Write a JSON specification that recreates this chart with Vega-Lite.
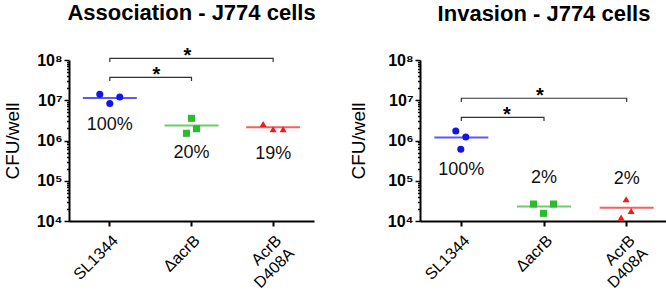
{
  "$schema": "https://vega.github.io/schema/vega-lite/v6.json",
  "padding": {"left": 3, "top": 2, "right": 0, "bottom": 0},
  "spacing": 33,
  "config": {
    "font": "Liberation Sans",
    "view": {"stroke": null},
    "axis": {"grid": false, "domainColor": "#000", "domainWidth": 2, "tickColor": "#000", "labelColor": "#000", "titleColor": "#000", "labelFont": "Liberation Sans", "titleFont": "Liberation Sans"},
    "title": {"font": "Liberation Sans", "fontSize": 22, "fontWeight": "bold", "color": "#000", "frame": "group", "anchor": "middle", "baseline": "alphabetic"}
  },
  "datasets": {
    "pts": [
      {"panel": "A", "strain": "SL1344", "cfu": 14000000, "slot": -2, "pct": "100%"},
      {"panel": "A", "strain": "SL1344", "cfu": 8300000, "slot": 0, "pct": "100%"},
      {"panel": "A", "strain": "SL1344", "cfu": 12000000, "slot": 2, "pct": "100%"},
      {"panel": "A", "strain": "ΔacrB", "cfu": 3560000, "slot": 0, "pct": "20%"},
      {"panel": "A", "strain": "ΔacrB", "cfu": 1960000, "slot": 1, "pct": "20%"},
      {"panel": "A", "strain": "ΔacrB", "cfu": 1510000, "slot": -1, "pct": "20%"},
      {"panel": "A", "strain": "AcrB D408A", "cfu": 2570000, "slot": -2, "pct": "19%"},
      {"panel": "A", "strain": "AcrB D408A", "cfu": 1900000, "slot": 0, "pct": "19%"},
      {"panel": "A", "strain": "AcrB D408A", "cfu": 1900000, "slot": 2, "pct": "19%"},
      {"panel": "I", "strain": "SL1344", "cfu": 1720000, "slot": -1, "pct": "100%"},
      {"panel": "I", "strain": "SL1344", "cfu": 1220000, "slot": 1, "pct": "100%"},
      {"panel": "I", "strain": "SL1344", "cfu": 604000, "slot": 0, "pct": "100%"},
      {"panel": "I", "strain": "ΔacrB", "cfu": 26400, "slot": -2, "pct": "2%"},
      {"panel": "I", "strain": "ΔacrB", "cfu": 26400, "slot": 2, "pct": "2%"},
      {"panel": "I", "strain": "ΔacrB", "cfu": 15500, "slot": 0, "pct": "2%"},
      {"panel": "I", "strain": "AcrB D408A", "cfu": 34600, "slot": 0, "pct": "2%"},
      {"panel": "I", "strain": "AcrB D408A", "cfu": 17700, "slot": 1, "pct": "2%"},
      {"panel": "I", "strain": "AcrB D408A", "cfu": 12100, "slot": -1, "pct": "2%"}
    ],
    "br": [
      {"panel": "A", "id": 1, "seq": 0, "strain": "SL1344", "cfu": 89000000},
      {"panel": "A", "id": 1, "seq": 1, "strain": "SL1344", "cfu": 110000000},
      {"panel": "A", "id": 1, "seq": 2, "strain": "AcrB D408A", "cfu": 110000000},
      {"panel": "A", "id": 1, "seq": 3, "strain": "AcrB D408A", "cfu": 89000000},
      {"panel": "A", "id": 2, "seq": 0, "strain": "SL1344", "cfu": 30000000},
      {"panel": "A", "id": 2, "seq": 1, "strain": "SL1344", "cfu": 37200000},
      {"panel": "A", "id": 2, "seq": 2, "strain": "ΔacrB", "cfu": 37200000},
      {"panel": "A", "id": 2, "seq": 3, "strain": "ΔacrB", "cfu": 30000000},
      {"panel": "I", "id": 1, "seq": 0, "strain": "SL1344", "cfu": 9100000},
      {"panel": "I", "id": 1, "seq": 1, "strain": "SL1344", "cfu": 11200000},
      {"panel": "I", "id": 1, "seq": 2, "strain": "AcrB D408A", "cfu": 11200000},
      {"panel": "I", "id": 1, "seq": 3, "strain": "AcrB D408A", "cfu": 9100000},
      {"panel": "I", "id": 2, "seq": 0, "strain": "SL1344", "cfu": 3050000},
      {"panel": "I", "id": 2, "seq": 1, "strain": "SL1344", "cfu": 3770000},
      {"panel": "I", "id": 2, "seq": 2, "strain": "ΔacrB", "cfu": 3770000},
      {"panel": "I", "id": 2, "seq": 3, "strain": "ΔacrB", "cfu": 3050000}
    ],
    "stars": [
      {"panel": "A", "level": "top", "strain": "ΔacrB", "cfu": 110000000, "t": "*"},
      {"panel": "A", "level": "low", "strain": "ΔacrB", "cfu": 37200000, "t": "*"},
      {"panel": "I", "level": "top", "strain": "ΔacrB", "cfu": 11200000, "t": "*"},
      {"panel": "I", "level": "low", "strain": "ΔacrB", "cfu": 3770000, "t": "*"}
    ]
  },
  "hconcat": [
    {
      "width": 245,
      "height": 161,
      "title": {"text": "Association - J774 cells", "offset": 21},
      "encoding": {
        "x": {"field": "strain", "type": "nominal", "title": null,
          "scale": {"domain": ["SL1344", "ΔacrB", "AcrB D408A"], "paddingInner": 0, "paddingOuter": 0},
          "axis": {"labelAngle": -45, "labelFontSize": 16, "labelPadding": 6, "tickSize": 5, "tickWidth": 2, "labelLineHeight": 18,
            "labelExpr": "datum.label == 'AcrB D408A' ? ['AcrB', 'D408A'] : datum.label"}},
        "y": {"field": "cfu", "type": "quantitative", "title": "CFU/well",
          "scale": {"type": "log", "domain": [10000, 100000000], "nice": false},
          "axis": {"values": [10000, 20000, 30000, 40000, 50000, 60000, 70000, 80000, 90000, 100000, 200000, 300000, 400000, 500000, 600000, 700000, 800000, 900000, 1000000, 2000000, 3000000, 4000000, 5000000, 6000000, 7000000, 8000000, 9000000, 10000000, 20000000, 30000000, 40000000, 50000000, 60000000, 70000000, 80000000, 90000000, 100000000],
            "labelExpr": "abs(log(datum.value)/LN10 - round(log(datum.value)/LN10)) < 0.01 ? '10' + substring('⁰¹²³⁴⁵⁶⁷⁸⁹', round(log(datum.value)/LN10), round(log(datum.value)/LN10) + 1) : ''",
            "labelOverlap": false, "labelFontWeight": "bold", "labelFontSize": 16, "labelPadding": 2,
            "tickSize": {"condition": {"test": "abs(log(datum.value)/LN10 - round(log(datum.value)/LN10)) < 0.01", "value": 5}, "value": 2.5},
            "tickWidth": 1.5, "titleFontSize": 19, "titleFontWeight": "normal", "titlePadding": 14}}
      },
      "layer": [
        {
          "data": {"name": "br"},
          "transform": [{"filter": "datum.panel == 'A'"}],
          "mark": {"type": "line", "color": "#333", "strokeWidth": 1.2},
          "encoding": {"detail": {"field": "id"}, "order": {"field": "seq"}}
        },
        {
          "data": {"name": "stars"},
          "transform": [{"filter": "datum.panel == 'A' && datum.level == 'top'"}],
          "mark": {"type": "text", "fontSize": 20, "fontWeight": "bold", "baseline": "alphabetic", "dy": 4},
          "encoding": {"x": {"field": "strain", "type": "nominal", "bandPosition": 0.45}, "text": {"field": "t"}}
        },
        {
          "data": {"name": "stars"},
          "transform": [{"filter": "datum.panel == 'A' && datum.level == 'low'"}],
          "mark": {"type": "text", "fontSize": 20, "fontWeight": "bold", "baseline": "alphabetic", "dy": 4},
          "encoding": {"x": {"field": "strain", "type": "nominal", "bandPosition": 0.07}, "text": {"field": "t"}}
        },
        {
          "data": {"name": "pts"},
          "transform": [{"filter": "datum.panel == 'A'"}, {"aggregate": [{"op": "mean", "field": "cfu", "as": "cfu"}], "groupby": ["strain", "pct"]}],
          "mark": {"type": "tick", "size": 54, "thickness": 2},
          "encoding": {"color": {"field": "strain", "type": "nominal", "legend": null, "scale": {"domain": ["SL1344", "ΔacrB", "AcrB D408A"], "range": ["#1414e6", "#2cbb2c", "#ee1c1c"]}}}
        },
        {
          "data": {"name": "pts"},
          "transform": [{"filter": "datum.panel == 'A'"}, {"aggregate": [{"op": "mean", "field": "cfu", "as": "cfu"}], "groupby": ["strain", "pct"]}],
          "mark": {"type": "text", "fontSize": 18, "dy": 27, "color": "#111"},
          "encoding": {"text": {"field": "pct"}}
        },
        {
          "data": {"name": "pts"},
          "transform": [{"filter": "datum.panel == 'A'"}],
          "mark": {"type": "point", "filled": true, "size": 50, "opacity": 1},
          "encoding": {
            "xOffset": {"field": "slot", "type": "quantitative", "scale": {"domain": [-2, 2], "range": [30.8, 50.8]}},
            "color": {"field": "strain", "type": "nominal", "legend": null},
            "shape": {"field": "strain", "type": "nominal", "legend": null, "scale": {"domain": ["SL1344", "ΔacrB", "AcrB D408A"], "range": ["circle", "square", "triangle-up"]}}
          }
        }
      ]
    },
    {
      "width": 248,
      "height": 161,
      "title": {"text": "Invasion - J774 cells", "offset": 26},
      "encoding": {
        "x": {"field": "strain", "type": "nominal", "title": null,
          "scale": {"domain": ["SL1344", "ΔacrB", "AcrB D408A"], "paddingInner": 0, "paddingOuter": 0},
          "axis": {"labelAngle": -45, "labelFontSize": 16, "labelPadding": 6, "tickSize": 5, "tickWidth": 2, "labelLineHeight": 18,
            "labelExpr": "datum.label == 'AcrB D408A' ? ['AcrB', 'D408A'] : datum.label"}},
        "y": {"field": "cfu", "type": "quantitative", "title": "CFU/well",
          "scale": {"type": "log", "domain": [10000, 100000000], "nice": false},
          "axis": {"values": [10000, 20000, 30000, 40000, 50000, 60000, 70000, 80000, 90000, 100000, 200000, 300000, 400000, 500000, 600000, 700000, 800000, 900000, 1000000, 2000000, 3000000, 4000000, 5000000, 6000000, 7000000, 8000000, 9000000, 10000000, 20000000, 30000000, 40000000, 50000000, 60000000, 70000000, 80000000, 90000000, 100000000],
            "labelExpr": "abs(log(datum.value)/LN10 - round(log(datum.value)/LN10)) < 0.01 ? '10' + substring('⁰¹²³⁴⁵⁶⁷⁸⁹', round(log(datum.value)/LN10), round(log(datum.value)/LN10) + 1) : ''",
            "labelOverlap": false, "labelFontWeight": "bold", "labelFontSize": 16, "labelPadding": 2,
            "tickSize": {"condition": {"test": "abs(log(datum.value)/LN10 - round(log(datum.value)/LN10)) < 0.01", "value": 5}, "value": 2.5},
            "tickWidth": 1.5, "titleFontSize": 19, "titleFontWeight": "normal", "titlePadding": 19}}
      },
      "layer": [
        {
          "data": {"name": "br"},
          "transform": [{"filter": "datum.panel == 'I'"}],
          "mark": {"type": "line", "color": "#333", "strokeWidth": 1.2},
          "encoding": {"detail": {"field": "id"}, "order": {"field": "seq"}}
        },
        {
          "data": {"name": "stars"},
          "transform": [{"filter": "datum.panel == 'I' && datum.level == 'top'"}],
          "mark": {"type": "text", "fontSize": 20, "fontWeight": "bold", "baseline": "alphabetic", "dy": 4},
          "encoding": {"x": {"field": "strain", "type": "nominal", "bandPosition": 0.45}, "text": {"field": "t"}}
        },
        {
          "data": {"name": "stars"},
          "transform": [{"filter": "datum.panel == 'I' && datum.level == 'low'"}],
          "mark": {"type": "text", "fontSize": 20, "fontWeight": "bold", "baseline": "alphabetic", "dy": 4},
          "encoding": {"x": {"field": "strain", "type": "nominal", "bandPosition": 0.05}, "text": {"field": "t"}}
        },
        {
          "data": {"name": "pts"},
          "transform": [{"filter": "datum.panel == 'I'"}, {"aggregate": [{"op": "mean", "field": "cfu", "as": "cfu"}], "groupby": ["strain", "pct"]}],
          "mark": {"type": "tick", "size": 54, "thickness": 2},
          "encoding": {"color": {"field": "strain", "type": "nominal", "legend": null, "scale": {"domain": ["SL1344", "ΔacrB", "AcrB D408A"], "range": ["#1414e6", "#2cbb2c", "#ee1c1c"]}}}
        },
        {
          "data": {"name": "pts"},
          "transform": [{"filter": "datum.panel == 'I' && datum.strain == 'SL1344'"}, {"aggregate": [{"op": "mean", "field": "cfu", "as": "cfu"}], "groupby": ["strain", "pct"]}],
          "mark": {"type": "text", "fontSize": 18, "dy": 32, "color": "#111"},
          "encoding": {"text": {"field": "pct"}}
        },
        {
          "data": {"name": "pts"},
          "transform": [{"filter": "datum.panel == 'I' && datum.strain != 'SL1344'"}, {"aggregate": [{"op": "mean", "field": "cfu", "as": "cfu"}], "groupby": ["strain", "pct"]}],
          "mark": {"type": "text", "fontSize": 18, "dy": -29, "color": "#111"},
          "encoding": {"text": {"field": "pct"}}
        },
        {
          "data": {"name": "pts"},
          "transform": [{"filter": "datum.panel == 'I'"}],
          "mark": {"type": "point", "filled": true, "size": 50, "opacity": 1},
          "encoding": {
            "xOffset": {"field": "slot", "type": "quantitative", "scale": {"domain": [-2, 2], "range": [31.3, 51.3]}},
            "color": {"field": "strain", "type": "nominal", "legend": null},
            "shape": {"field": "strain", "type": "nominal", "legend": null, "scale": {"domain": ["SL1344", "ΔacrB", "AcrB D408A"], "range": ["circle", "square", "triangle-up"]}}
          }
        }
      ]
    }
  ]
}
